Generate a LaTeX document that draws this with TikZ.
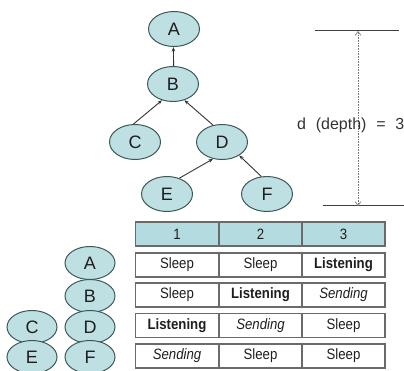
\documentclass[tikz,border=0pt]{standalone}
\usepackage{fontspec}
\setmainfont{Liberation Sans}
\newfontfamily\cellfont[FakeStretch=0.88]{Liberation Sans}
\newfontfamily\depthfont[WordSpace=2.2]{Liberation Sans}
\usetikzlibrary{arrows.meta,shapes.geometric}

\definecolor{nodefill}{HTML}{BEE0E3}
\definecolor{nodeline}{HTML}{3E5858}
\definecolor{headfill}{HTML}{B4DCE0}
\definecolor{cellline}{HTML}{6A6A6A}
\definecolor{inktext}{HTML}{1E1E1E}

\tikzset{
  treenode/.style={ellipse, draw=nodeline, fill=nodefill, line width=1pt,
    minimum width=51pt, minimum height=35pt, inner sep=0pt,
    font=\fontsize{18}{18}\selectfont, text=inktext},
  slotnode/.style={treenode, minimum width=50pt, minimum height=33pt},
  link/.style={draw=black!80, line width=0.9pt,
    -{Stealth[length=4.5pt,width=3.5pt]}},
  cell/.style={rectangle, draw=cellline, line width=1.1pt,
    minimum width=83pt, minimum height=24pt, inner sep=0pt,
    font=\cellfont\fontsize{15}{15}\selectfont, text=inktext},
  headcell/.style={cell, fill=headfill},
  sleep/.style={cell},
  listen/.style={cell, font=\cellfont\fontsize{15}{15}\selectfont\bfseries},
  send/.style={cell, font=\cellfont\fontsize{15}{15}\selectfont\itshape},
  level/.style={draw=black!75, line width=1pt},
  span/.style={draw=black!55, line width=0.6pt, densely dotted,
    {Straight Barb[length=4pt,width=6pt]}-{Straight Barb[length=4pt,width=6pt]}}
}

\begin{document}
\begin{tikzpicture}[x=1pt,y=-1pt]
\useasboundingbox (0,0) rectangle (404,371);

% tree
\node[treenode] (A) at (174,29) {A};
\node[treenode] (B) at (173,84) {B};
\node[treenode] (C) at (135,142) {C};
\node[treenode] (D) at (222,142) {D};
\node[treenode] (E) at (167,194) {E};
\node[treenode] (F) at (267,194) {F};

\draw[link] (B.88) -- (A.268);
\draw[link] (C.95) -- (B.236);
\draw[link] (D.118) -- (B.305);
\draw[link] (E.52) -- (D.242);
\draw[link] (F.108) -- (D.322);

% depth marker
\coordinate (top1) at (315,31);
\coordinate (top2) at (399,31);
\coordinate (bot1) at (323,206);
\coordinate (bot2) at (404,206);
\coordinate (topm) at (358,31);
\coordinate (botm) at (358,206);
\draw[level] (top1) -- (top2);
\draw[level] (bot1) -- (bot2);
\draw[span] (topm) -- (botm);
\node[anchor=west, inner sep=0pt, text=black!80,
  font=\depthfont\fontsize{16}{16}\selectfont] (dlabel) at (297,125.5) {d (depth) = 3};

% schedule table
\foreach \c/\x in {1/177,2/260.5,3/343.5} {
  \node[headcell] (h\c) at (\x,234) {\c};
}
\node[sleep]  (r1c1) at (177,265) {Sleep};
\node[sleep]  (r1c2) at (260.5,265) {Sleep};
\node[listen] (r1c3) at (343.5,265) {Listening};

\node[sleep]  (r2c1) at (177,295) {Sleep};
\node[listen] (r2c2) at (260.5,295) {Listening};
\node[send]   (r2c3) at (343.5,295) {Sending};

\node[listen] (r3c1) at (177,325.5) {Listening};
\node[send]   (r3c2) at (260.5,325.5) {Sending};
\node[sleep]  (r3c3) at (343.5,325.5) {Sleep};

\node[send]   (r4c1) at (177,356) {Sending};
\node[sleep]  (r4c2) at (260.5,356) {Sleep};
\node[sleep]  (r4c3) at (343.5,356) {Sleep};

% node slots next to the table
\node[slotnode] (sA) at (90,263) {A};
\node[slotnode] (sB) at (90,296) {B};
\node[slotnode] (sC) at (32,327) {C};
\node[slotnode] (sD) at (90,327) {D};
\node[slotnode] (sE) at (32,357) {E};
\node[slotnode] (sF) at (90,357) {F};
\end{tikzpicture}
\end{document}
